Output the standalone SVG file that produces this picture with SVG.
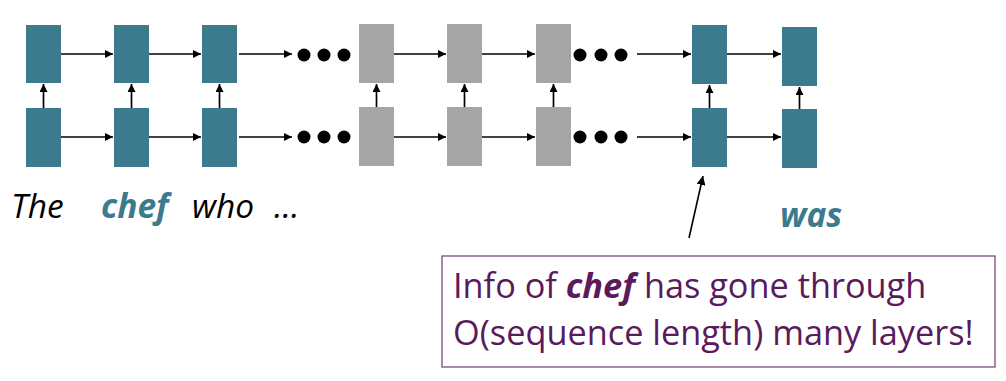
<svg xmlns="http://www.w3.org/2000/svg" width="1006" height="381" viewBox="0 0 1006 381">
  <style>
    .cell { fill: #3b7b8d; }
    .gray { fill: #a5a5a5; }
    .dot { fill: #000; }
    .link { stroke: #000; stroke-width: 1.7; fill: none; marker-end: url(#head); }
    .word { font-family: "Open Sans", Lato, sans-serif; font-style: italic; font-size: 33.5px; fill: #000; }
    .key { font-weight: bold; fill: #3b7b8d; }
    .note { font-family: "Open Sans", Lato, sans-serif; font-size: 34.3px; fill: #5a1a5c; }
  </style>
  <defs>
    <marker id="head" viewBox="0 0 10 10" refX="10" refY="5" markerWidth="8" markerHeight="8" markerUnits="userSpaceOnUse" orient="auto">
      <path d="M0,0 L10,5 L0,10 z" fill="#000"/>
    </marker>
    <marker id="head2" viewBox="0 0 10 10" refX="10" refY="5" markerWidth="9" markerHeight="9" markerUnits="userSpaceOnUse" orient="auto">
      <path d="M0,0 L10,5 L0,10 z" fill="#000"/>
    </marker>
  </defs>
  <rect width="1006" height="381" fill="#fff"/>

  <!-- connectors -->
  <g id="connectors">
    <!-- top row -->
    <line class="link" x1="61" y1="54" x2="113" y2="54"/>
    <line class="link" x1="149" y1="54" x2="201" y2="54"/>
    <line class="link" x1="239" y1="54" x2="292" y2="54"/>
    <line class="link" x1="394" y1="54" x2="446" y2="54"/>
    <line class="link" x1="482" y1="54" x2="535" y2="54"/>
    <line class="link" x1="637" y1="54" x2="691" y2="54"/>
    <line class="link" x1="727" y1="54" x2="781" y2="54"/>
    <!-- bottom row -->
    <line class="link" x1="61" y1="137" x2="113" y2="137"/>
    <line class="link" x1="149" y1="137" x2="201" y2="137"/>
    <line class="link" x1="239" y1="137" x2="292" y2="137"/>
    <line class="link" x1="394" y1="137" x2="446" y2="137"/>
    <line class="link" x1="482" y1="137" x2="535" y2="137"/>
    <line class="link" x1="637" y1="137" x2="691" y2="137"/>
    <line class="link" x1="727" y1="137" x2="781" y2="137"/>
    <!-- vertical -->
    <line class="link" x1="43.5" y1="108" x2="43.5" y2="84"/>
    <line class="link" x1="131.5" y1="108" x2="131.5" y2="84"/>
    <line class="link" x1="219.5" y1="108" x2="219.5" y2="84"/>
    <line class="link" x1="376.5" y1="107" x2="376.5" y2="84"/>
    <line class="link" x1="464.5" y1="107" x2="464.5" y2="84"/>
    <line class="link" x1="553.5" y1="107" x2="553.5" y2="84"/>
    <line class="link" x1="709.5" y1="108" x2="709.5" y2="85"/>
    <line class="link" x1="799.5" y1="109" x2="799.5" y2="87"/>
    <!-- pointer to callout -->
    <line x1="689" y1="238" x2="703" y2="176" stroke="#000" stroke-width="1.6" marker-end="url(#head2)"/>
  </g>

  <!-- ellipsis dots -->
  <g id="dots1">
    <circle class="dot" cx="304" cy="55" r="6.5"/>
    <circle class="dot" cx="324" cy="55" r="6.5"/>
    <circle class="dot" cx="344" cy="55" r="6.5"/>
    <circle class="dot" cx="304" cy="137" r="6.5"/>
    <circle class="dot" cx="324" cy="137" r="6.5"/>
    <circle class="dot" cx="344" cy="137" r="6.5"/>
  </g>
  <g id="dots2">
    <circle class="dot" cx="580" cy="55" r="6.5"/>
    <circle class="dot" cx="601" cy="55" r="6.5"/>
    <circle class="dot" cx="621" cy="55" r="6.5"/>
    <circle class="dot" cx="580" cy="137" r="6.5"/>
    <circle class="dot" cx="601" cy="137" r="6.5"/>
    <circle class="dot" cx="621" cy="137" r="6.5"/>
  </g>

  <!-- RNN cells: columns, top and bottom layers -->
  <g id="col1"><rect class="cell" x="26" y="25" width="35" height="58"/><rect class="cell" x="26" y="108" width="35" height="59"/></g>
  <g id="col2"><rect class="cell" x="114" y="25" width="35" height="58"/><rect class="cell" x="114" y="108" width="35" height="59"/></g>
  <g id="col3"><rect class="cell" x="202" y="25" width="35" height="58"/><rect class="cell" x="202" y="108" width="35" height="59"/></g>
  <g id="col4"><rect class="gray" x="359" y="24" width="35" height="59"/><rect class="gray" x="359" y="107" width="35" height="59"/></g>
  <g id="col5"><rect class="gray" x="447" y="24" width="35" height="59"/><rect class="gray" x="447" y="107" width="35" height="59"/></g>
  <g id="col6"><rect class="gray" x="536" y="24" width="35" height="59"/><rect class="gray" x="536" y="107" width="35" height="59"/></g>
  <g id="col7"><rect class="cell" x="692" y="25" width="35" height="59"/><rect class="cell" x="692" y="108" width="35" height="59"/></g>
  <g id="col8"><rect class="cell" x="782" y="27" width="35" height="59"/><rect class="cell" x="782" y="109" width="35" height="59"/></g>

  <!-- input words -->
  <g id="words">
    <text class="word" x="11" y="218">The</text>
    <text class="word key" x="101" y="218">chef</text>
    <text class="word" x="192" y="218">who</text>
    <text class="word" x="274" y="218">…</text>
    <text class="word key" x="780" y="227">was</text>
  </g>

  <!-- callout -->
  <g id="callout">
    <rect x="442" y="256" width="553" height="111" fill="#fff" stroke="#7b4a7d" stroke-width="1.3"/>
    <text class="note" x="453" y="298">Info of <tspan font-weight="bold" font-style="italic">chef</tspan> has gone through</text>
    <text class="note" x="453" y="345">O(sequence length) many layers!</text>
  </g>
</svg>
